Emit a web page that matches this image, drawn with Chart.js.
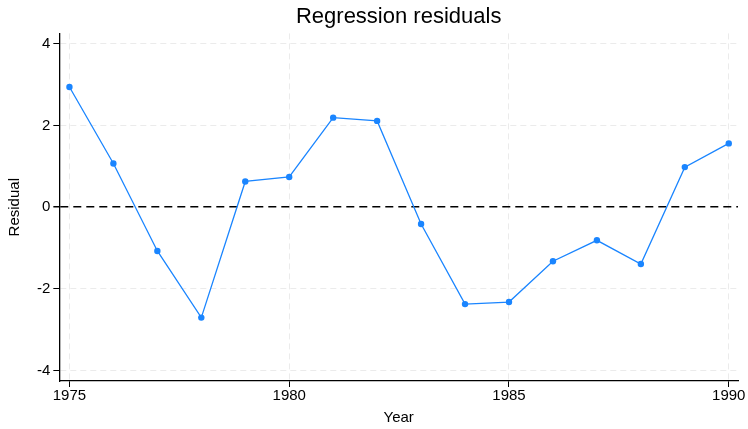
<!DOCTYPE html>
<html>
<head>
<meta charset="utf-8">
<script src="https://cdn.jsdelivr.net/npm/chart.js@4"></script>
<style>
  body { margin: 0; background: #fff; }
</style>
</head>
<body>
<canvas id="chart" width="748" height="429"></canvas>
<script>
const years = [1975, 1976, 1977, 1978, 1979, 1980, 1981, 1982, 1983, 1984, 1985, 1986, 1987, 1988, 1989, 1990];
const residuals = [2.94, 1.07, -1.07, -2.70, 0.63, 0.74, 2.19, 2.11, -0.41, -2.37, -2.32, -1.32, -0.81, -1.39, 0.98, 1.56];
const xTicks = [1975, 1980, 1985, 1990];
const yTicks = [-4, -2, 0, 2, 4];

const FONT = 'Liberation Sans, Arial, sans-serif';

const ctx = document.getElementById('chart').getContext('2d');
new Chart(ctx, {
  type: 'line',
  data: {
    datasets: [{
      label: 'Residual',
      data: years.map((y, i) => ({ x: y, y: residuals[i] })),
      borderColor: '#1a85ff',
      backgroundColor: '#1a85ff',
      borderWidth: 1.3,
      pointRadius: 3.2,
      pointHoverRadius: 3.2,
      pointBorderWidth: 0,
      tension: 0
    }]
  },
  options: {
    responsive: false,
    animation: false,
    layout: { padding: { top: 4, right: 10, left: 4, bottom: 1 } },
    plugins: {
      legend: { display: false },
      tooltip: { enabled: false },
      title: {
        display: true,
        text: 'Regression residuals',
        fullSize: false,
        color: '#000',
        font: { family: FONT, size: 22, weight: 'normal' },
        padding: { top: 0, bottom: 3 }
      }
    },
    scales: {
      x: {
        type: 'linear',
        min: 1974.77,
        max: 1990.21,
        afterBuildTicks: s => { s.ticks = xTicks.map(v => ({ value: v })); },
        ticks: { color: '#000', font: { family: FONT, size: 15 }, padding: 0, maxRotation: 0, callback: v => String(v) },
        grid: { color: '#ebebeb', lineWidth: 1, tickColor: '#000', tickLength: 6 },
        border: { display: true, color: '#000', width: 1.3, dash: [6, 4] },
        title: { display: true, text: 'Year', color: '#000', font: { family: FONT, size: 15 }, padding: { top: 4, bottom: 1 } }
      },
      y: {
        min: -4.25,
        max: 4.25,
        afterBuildTicks: s => { s.ticks = yTicks.map(v => ({ value: v })); },
        ticks: { color: '#000', font: { family: FONT, size: 15 }, padding: 3 },
        grid: {
          color: c => (c.tick && c.tick.value === 0) ? '#000' : '#ebebeb',
          lineWidth: c => (c.tick && c.tick.value === 0) ? 1.5 : 1,
          tickColor: '#000',
          tickLength: 6
        },
        border: { display: true, color: '#000', width: 1.3, dash: c => (c.tick && c.tick.value === 0) ? [8, 5] : [6, 4] },
        title: { display: true, text: 'Residual', color: '#000', font: { family: FONT, size: 15 }, padding: { top: 2, bottom: 10 } }
      }
    }
  }
});
</script>
</body>
</html>
